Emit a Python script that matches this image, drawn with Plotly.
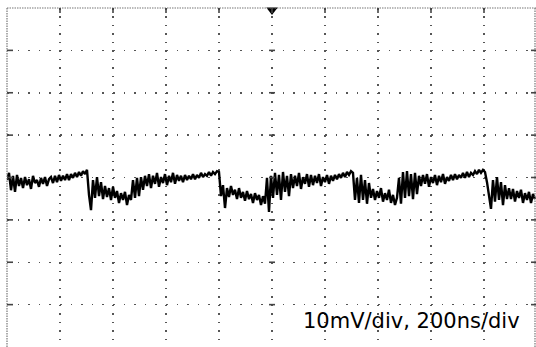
import plotly.graph_objects as go

# ---------------- data ----------------
sample_interval_ns = 7.547          # one sample every ~2 screen pixels
volts_per_div_mv = 10
time_per_div_ns = 200
label_text = "10mV/div, 200ns/div"

trace_mv = [
    # 0-6
    -0.6, 1.1, -3.0, 0.4, -3.4, 0.6, -2.0,
    # 7-21
    -0.1, -2.5, 0.1, -1.8, -0.4, -2.7, 0.4, -1.3, -0.6, -2.2, -0.1, -1.5, 0.1, -2.0, -0.4,
    # 22-40 ramp
    0.1, -1.3, 0.4, -1.1, 0.6, -0.8, 0.4, -0.6, 0.8, -0.6, 0.8, -0.1, 1.1, 0.1, 1.3, 0.4, 1.5, 0.8, 1.8,
    # 41-42 drop
    -4.1, -7.7,
    # 43-47
    -0.6, -4.8, 0.1, -4.4, -1.1,
    # 48-54
    -5.1, -2.0, -4.6, -2.5, -5.3, -2.2, -4.8,
    # 55-61
    -3.2, -6.0, -3.7, -5.3, -3.4, -6.5, -4.1,
    # 62-69 rise
    -5.3, -0.6, -4.8, -0.1, -4.4, 0.1, -2.9, 0.4,
    # 70-86
    -2.0, 0.8, -2.5, 0.4, -1.5, 1.1, -2.2, 0.1, -1.3, 0.8, -1.8, 0.4, -1.1, 1.1, -1.5, 0.6, -0.8,
    # 87-106 ramp
    0.4, -1.1, 0.6, -0.6, 0.4, -0.4, 0.8, -0.4, 0.6, -0.1, 1.1, 0.1, 0.8, 0.4, 1.3, 0.4, 1.3, 0.8, 1.5, 1.3,
    # 107-109 drop
    -4.4, -1.8, -7.2,
    # 110-128
    -2.5, -4.6, -2.0, -4.1, -2.9, -5.1, -2.5, -4.8, -3.4, -5.5, -3.2, -5.1, -3.9, -6.0, -3.7, -5.3, -4.1, -6.5, -4.4,
    # 129-132 rise
    -6.2, -0.1, -8.1, 0.4,
    # 133-141
    -4.8, 1.1, -4.1, 0.6, -5.3, 1.3, -3.4, 0.4, -4.4,
    # 142-161
    0.8, -2.5, 0.4, -2.0, 1.1, -2.7, 0.1, -1.5, 0.8, -2.2, 0.6, -1.8, 0.4, -1.3, 0.8, -2.0, 0.1, -1.1, 0.6, -1.5,
    # 162-173 ramp
    0.4, -0.8, 0.6, -0.4, 0.8, -0.1, 1.1, 0.1, 1.3, 0.6, 1.5, 1.1,
    # 174 drop
    -5.3,
    # 175-182
    -0.1, -6.0, 0.6, -5.3, -0.6, -6.2, -1.3, -4.8,
    # 183-195
    -2.7, -5.3, -3.2, -4.8, -2.5, -5.7, -3.7, -5.3, -2.9, -6.0, -4.1, -6.5, -4.8,
    # 196-206 rise
    -0.1, -6.2, 1.3, -4.8, 1.5, -4.4, 0.8, -5.1, 1.1, -3.9, 0.4,
    # 207-221
    -2.0, 0.6, -1.5, 0.8, -2.2, 0.1, -1.3, 0.6, -1.8, 0.4, -1.1, 0.8, -1.5, 0.1, -0.8,
    # 222-239 ramp
    0.6, -0.6, 0.8, -0.4, 0.6, -0.1, 1.1, -0.1, 1.3, 0.1, 1.1, 0.6, 1.5, 0.8, 1.8, 1.1, 1.8, 1.3,
    # 240-242 drop
    -1.1, -4.4, -7.4,
    # 243-251
    -0.6, -5.7, 0.1, -5.3, -1.1, -6.5, -1.8, -5.1, -2.5,
    # 252-264
    -5.1, -2.7, -5.7, -3.2, -4.8, -2.9, -6.0, -3.7, -5.3, -3.4, -6.0, -3.9, -5.1,
]
time_ns = [i * sample_interval_ns for i in range(len(trace_mv))]

x_divs = 10
y_divs = 8
x_grid_ns = [k * time_per_div_ns for k in range(x_divs + 1)]
y_grid_mv = [(k - y_divs // 2) * volts_per_div_mv for k in range(y_divs + 1)]
trigger_time_ns = [1000]

# ---------------- figure ----------------
W, H = 536, 347
ML, MT = 7, 8
plot_w = W - ML
plot_h = H - MT
x_max = x_divs * time_per_div_ns * plot_w / 530.0
y_top = y_grid_mv[-1]
y_bot = y_grid_mv[0]
px_per_mv = plot_h / (y_top - y_bot)

grid_col = "#555555"
fig = go.Figure()
fig.add_trace(go.Scatter(
    x=time_ns, y=trace_mv, mode="lines",
    line=dict(color="black", width=2.4),
    hoverinfo="skip", showlegend=False,
))
fig.add_trace(go.Scatter(
    x=trigger_time_ns, y=[y_top - 2.0 / px_per_mv] * len(trigger_time_ns), mode="markers",
    marker=dict(symbol="triangle-down", size=10, color="black"),
    cliponaxis=False, hoverinfo="skip", showlegend=False,
))

x_div_px = plot_w * time_per_div_ns / x_max
y_div_px = plot_h / y_divs
axis_common = dict(showticklabels=False, ticks="", zeroline=False, showline=False,
                   showgrid=True, gridcolor=grid_col, gridwidth=1.5, fixedrange=True)
fig.update_xaxes(range=[0, x_max], tick0=0, dtick=time_per_div_ns,
                 griddash="1.5px,%.3fpx" % (y_div_px / 5 - 1.5), **axis_common)
fig.update_yaxes(range=[y_bot, y_top], tick0=0, dtick=volts_per_div_mv,
                 griddash="1.5px,%.3fpx" % (x_div_px / 5 - 1.5), **axis_common)

shapes = []
right_edge = (535 - ML) / plot_w
# dense dotted borders
for (x0, y0, x1, y1) in [(0, 1, 1, 1), (0, 0, 0, 1), (right_edge, 0, right_edge, 1)]:
    shapes.append(dict(type="line", xref="paper", yref="paper", x0=x0, y0=y0, x1=x1, y1=y1,
                       line=dict(color="#777777", width=1.2, dash="1.5px,1px")))
# small tick marks at grid intersections on left border, center line and right border
for yv in y_grid_mv[1:-1]:
    for anchor, a, b in [(0, 0, 6), (x_max / 2 + 2, -3, 3), (x_max, -5, 0)]:
        shapes.append(dict(type="line", xref="x", yref="y", xsizemode="pixel", xanchor=anchor,
                           x0=a, x1=b, y0=yv, y1=yv, line=dict(color="#444444", width=1.6)))
# top border ticks
for xv in x_grid_ns[1:-1]:
    shapes.append(dict(type="line", xref="x", yref="y", ysizemode="pixel", yanchor=y_top,
                       x0=xv, x1=xv, y0=-5, y1=0, line=dict(color="#444444", width=1.6)))
fig.update_layout(shapes=shapes)

fig.add_annotation(
    text=label_text, xref="paper", yref="paper",
    x=(301 - ML) / plot_w, y=(H - 321) / plot_h, xanchor="left", yanchor="middle",
    showarrow=False, font=dict(family="DejaVu Sans", size=21, color="black"),
)

fig.update_layout(
    width=W, height=H,
    margin=dict(l=ML, r=0, t=MT, b=0, pad=0, autoexpand=False),
    paper_bgcolor="white", plot_bgcolor="white",
)
fig.write_html("out.html", config={"displayModeBar": False, "staticPlot": True},
               post_script="document.body.style.margin='0';document.body.style.overflow='hidden';")
